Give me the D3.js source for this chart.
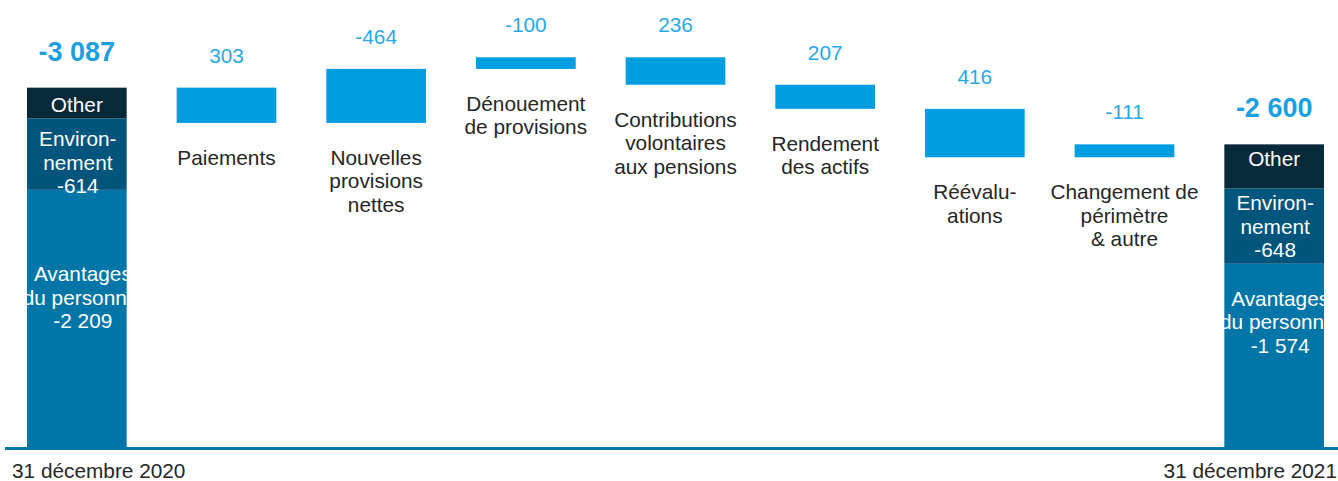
<!DOCTYPE html>
<html>
<head>
<meta charset="utf-8">
<script src="https://cdn.jsdelivr.net/npm/d3@7"></script>
<style>
 body { margin: 0; background: #fff; }
 text { font-family: "Liberation Sans", Arial, sans-serif; }
</style>
</head>
<body>
<script>

// data
var startTotal = -3087;
var endTotal = -2600;
var dateLabels = ["31 décembre 2020", "31 décembre 2021"];
var stepNames = [
	["Paiements"],
	["Nouvelles", "provisions", "nettes"],
	["Dénouement", "de provisions"],
	["Contributions", "volontaires", "aux pensions"],
	["Rendement", "des actifs"],
	["Réévalu-", "ations"],
	["Changement de", "périmètre", "& autre"]
];
var stepValues = [303, -464, -100, 236, 207, 416, -111];

var segNames = [["Avantages", "du personnel"], ["Environ-", "nement"], ["Other"]];
var segShowValue = [true, true, false];
var startSegs = [-2209, -614, -264];
var endSegs = [-1574, -648, -378];

var w = 1338, h = 481;
var fs = 20.8;

var fr = d3.formatLocale({decimal: ",", thousands: " ", grouping: [3], currency: ["", " €"], minus: "-"});
var fmt = fr.format(",d");

var svg = d3.select("body").append("svg")
	.attr("width", w)
	.attr("height", h);

var x = d3.scaleBand()
	.domain(d3.range(stepValues.length + 2))
	.range([27, 1324])
	.paddingInner(0.334)
	.paddingOuter(0);

var y = d3.scaleLinear().domain([0, 3840]).range([447, 0]);

// running waterfall (liability shown positive upward)
var steps = [];
var level = -startTotal;
stepValues.forEach(function(v, i) {
	var next = level - v;
	steps.push({i: i + 1, from: level, to: next, v: v, name: stepNames[i]});
	level = next;
});

// step bars
svg.selectAll("rect.step")
	.data(steps)
	.enter()
	.append("rect")
	.attr("class", "step")
	.attr("x", function(d) { return x(d.i); })
	.attr("width", x.bandwidth())
	.attr("y", function(d) { return y(Math.max(d.from, d.to)); })
	.attr("height", function(d) { return Math.abs(y(d.from) - y(d.to)); })
	.attr("fill", "#009ee0");

svg.selectAll("text.val")
	.data(steps)
	.enter()
	.append("text")
	.attr("class", "val")
	.attr("x", function(d) { return x(d.i) + x.bandwidth() / 2; })
	.attr("y", function(d) { return y(Math.max(d.from, d.to)) - 25; })
	.attr("text-anchor", "middle")
	.attr("font-size", fs)
	.attr("fill", "#29a8e6")
	.text(function(d) { return fmt(d.v); });

var lh = 23.5;
steps.forEach(function(d) {
	var t = svg.append("text")
		.attr("text-anchor", "middle")
		.attr("font-size", fs)
		.attr("fill", "#262626");
	d.name.forEach(function(line, k) {
		t.append("tspan")
			.attr("x", x(d.i) + x.bandwidth() / 2)
			.attr("y", y(Math.min(d.from, d.to)) + 42 + k * lh)
			.text(line);
	});
});

// total stacked bars
var segColors = ["#0076a8", "#00557d", "#08293a"];
// vertical placement of the label block inside each segment (fraction of its height)
var labelFrac = [[0.42, 0.62, 0.55], [0.32, 0.51, 0.34]];
var labelDx = [6, 1, 0];

var totals = [
	{i: 0, total: startTotal, segs: startSegs},
	{i: stepValues.length + 1, total: endTotal, segs: endSegs}
];

totals.forEach(function(b, bi) {
	var g = svg.append("g");
	var bx = x(b.i);
	var cum = 0;
	b.segs.forEach(function(v, s) {
		var lo = cum, hi = cum - v;
		cum = hi;
		var top = y(hi), bot = y(lo);
		g.append("rect")
			.attr("x", bx)
			.attr("width", x.bandwidth())
			.attr("y", top)
			.attr("height", bot - top)
			.attr("fill", segColors[s]);

		var lines = segNames[s].slice();
		if (segShowValue[s]) lines.push(fmt(v));
		var cid = "clip" + bi + "_" + s;
		g.append("clipPath").attr("id", cid)
			.append("rect")
			.attr("x", bx).attr("width", x.bandwidth())
			.attr("y", y(-b.total)).attr("height", y(0) - y(-b.total));
		var mid = top + (bot - top) * labelFrac[bi][s];
		var first = mid - (lines.length - 1) * lh / 2 + 7;
		var t = g.append("text")
			.attr("clip-path", "url(#" + cid + ")")
			.attr("text-anchor", "middle")
			.attr("font-size", fs)
			.attr("fill", "#ffffff");
		lines.forEach(function(line, k) {
			t.append("tspan")
				.attr("x", bx + x.bandwidth() / 2 + labelDx[s])
				.attr("y", first + k * lh)
				.text(line);
		});
	});

	svg.append("text")
		.attr("x", bx + x.bandwidth() / 2)
		.attr("y", y(-b.total) - 27)
		.attr("text-anchor", "middle")
		.attr("font-size", 27)
		.attr("font-weight", "bold")
		.attr("fill", "#1a9fe0")
		.text(fmt(b.total));
});

// baseline
svg.append("line")
	.attr("x1", 5).attr("x2", w)
	.attr("y1", y(0) + 1.5).attr("y2", y(0) + 1.5)
	.attr("stroke", "#0076a8")
	.attr("stroke-width", 3);

svg.append("text")
	.attr("x", x(0) - 15)
	.attr("y", 478)
	.attr("font-size", fs)
	.attr("fill", "#262626")
	.text(dateLabels[0]);

svg.append("text")
	.attr("x", x(stepValues.length + 1) + x.bandwidth() + 13)
	.attr("y", 478)
	.attr("text-anchor", "end")
	.attr("font-size", fs)
	.attr("fill", "#262626")
	.text(dateLabels[1]);

</script>
</body>
</html>
